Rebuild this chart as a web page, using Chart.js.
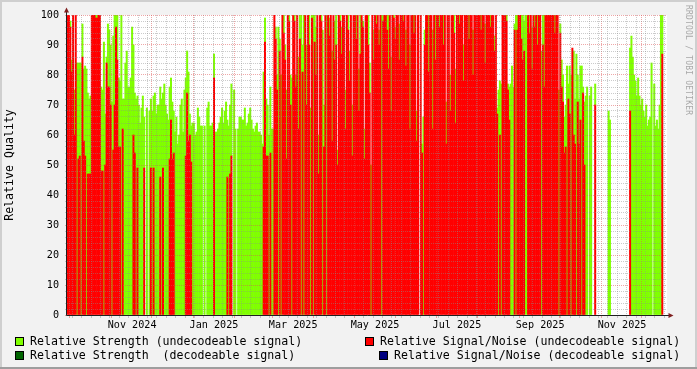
<!DOCTYPE html>
<html>
<head>
<meta charset="utf-8">
<script src="https://cdn.jsdelivr.net/npm/chart.js@4.4.1/dist/chart.umd.min.js"></script>
<style>
  html, body { margin: 0; padding: 0; background: #f2f2f2; }
  #wrap { position: relative; width: 697px; height: 369px; background: #f2f2f2; overflow: hidden;
          font-family: "DejaVu Sans Mono", monospace; }
  #chart { position: absolute; left: 0; top: 0; }
  .edge { position: absolute; }
  .lg { position: absolute; font-size: 11.6px; line-height: 14px; color: #000; white-space: pre; }
  .sq { position: absolute; width: 7px; height: 7px; border: 1px solid #000; }
  #mark { position: absolute; left: 684px; top: 5px; font-size: 8px; color: #a8a8a8;
          writing-mode: vertical-rl; white-space: pre; letter-spacing: 0.2px; }
</style>
</head>
<body>
<div id="wrap">
  <canvas id="chart" width="697" height="369"></canvas>
  <div class="edge" style="left:0;top:0;width:697px;height:2px;background:#cfcfcf"></div>
  <div class="edge" style="left:0;top:0;width:2px;height:369px;background:#cfcfcf"></div>
  <div class="edge" style="right:0;top:0;width:2px;height:369px;background:#cfcfcf"></div>
  <div class="edge" style="left:0;bottom:0;width:697px;height:2px;background:#9e9e9e"></div>

  <div class="sq" style="left:15px;top:337px;background:#80ff00"></div>
  <div class="lg" style="left:30px;top:334px">Relative Strength (undecodeable signal)</div>
  <div class="sq" style="left:365px;top:337px;background:#ff0000"></div>
  <div class="lg" style="left:380px;top:334px">Relative Signal/Noise (undecodeable signal)</div>
  <div class="sq" style="left:15px;top:351px;background:#006400"></div>
  <div class="lg" style="left:30px;top:348px">Relative Strength  (decodeable signal)</div>
  <div class="sq" style="left:379px;top:351px;background:#000080"></div>
  <div class="lg" style="left:394px;top:348px">Relative Signal/Noise (decodeable signal)</div>

  <div id="mark">RRDTOOL / TOBI OETIKER</div>
</div>
<script>
// one value per day, starting 2024-09-29
var startDate = Date.UTC(2024, 8, 29);

// Relative Strength (undecodeable signal), green
var strength = [
  90, 95,
  // Oct 2024
  98, 85, 80, 75, 84, 84, 84, 84, 84, 97, 82, 83, 82, 74, 72, 73, 90, 92, 95, 100,
  100, 96, 90, 76, 75, 91, 67, 86, 97, 95, 90,
  // Nov 2024
  71, 93, 100, 100, 100, 79, 78, 100, 72, 72, 84, 88, 76, 76, 79, 96, 90, 74, 72, 73,
  70, 64, 69, 73, 66, null, 69, null, 68, 72,
  // Dec 2024
  68, 73, 74, 67, 70, 70, 76, 72, 74, 77, 70, 67, 65, 76, 79, 71, 68, 61, 66, 57,
  60, 70, 72, 61, 75, 79, 88, 81, 67, 63, 64,
  // Jan 2025
  64, 60, 61, 69, 66, 63, 63, null, 63, null, 69, 71, 63, 63, 64, 87, 61, 61, 62, 64,
  66, 69, 64, 68, 71, 65, 63, 70, 77, null, 75,
  // Feb 2025
  62, null, 62, 66, 66, 65, 65, 69, 63, 64, 67, 69, 65, 62, 61, 63, 64, 61, 61, 60,
  57, 81, 99, 72, 70, 60, 76, 62,
  // Mar 2025
  62, 91, 96, 80, 96, 92, 80, 100, 100, 90, 75, 95, 100, 80, 79, 97, 100, 80, 95, 86,
  100, 100, 90, 100, 96, 90, 92, 100, 69, 100, 100,
  // Apr 2025
  100, 96, 90, 60, 92, 100, 95, 70, 88, 100, 91, 99, 96, 88, 94, 98, 100, 55, 93, 100,
  96, 90, 92, 75, 97, 100, 88, 95, 70, 96,
  // May 2025
  95, 100, 90, 82, 100, 94, 98, 62, 90, 98, 100, 84, 50, 92, 95, 96, 100, 93, 95, 97,
  100, 100, 90, 96, 100, 100, 92, 86, 95, 100, 96,
  // Jun 2025
  95, 92, 97, 96, 90, 100, 94, 95, 92, 96, 90, 93, 95, 100, 96, 68, 90, null, 93, 57,
  66, 95, 92, 94, 100, 96, 90, 95, 92, 100,
  // Jul 2025
  95, 92, 100, 94, 90, 100, 96, 71, 95, 92, 80, 97, 93, 100, 82, 90, 95, 100, 92, 96,
  90, 94, 91, 95, 100, 96, 93, 95, 90, 97, 95,
  // Aug 2025
  95, 92, 100, 90, 96, 97, 93, 90, 95, 100, 92, 94, 93, 90, 69, 75, 78, 77, 95, 92,
  90, 100, 77, 76, 77, 83, 76, 97, 100, 100, 94,
  // Sep 2025
  100, 100, 100, 98, 100, 100, 92, 100, 90, 96, 93, 100, 95, 100, 94, 92, 88, 100, 100, 95,
  92, 100, 90, 96, 94, 93, 100, 90, 92, 75,
  // Oct 2025
  97, 85, 80, 66, 70, 83, 77, 83, 80, 87, 88, 72, 87, 80, 72, 83, 83, 76, 71, 73,
  76, null, 73, 76, null, null, 77, null, null, null, null,
  // Nov 2025
  null, null, null, null, null, 68, 65, null, null, null, null, null, null, null, null, null,
  null, null, null, null, null, 89, 93, 86, 80, 78, 73, 79, 73, 70,
  // Dec 2025
  72, 68, 66, 70, 63, 65, 66, 84, null, 77, 63, 65, 62, 70, 100, 100, null, null, null
];

// Relative Signal/Noise (undecodeable signal), red
var snr = [
  100, 100,
  // Oct 2024
  96, 81, 100, 60, 100, null, 52, 53, null, 86, 58, 53, null, 47, 47, 47, 100, 100, 100, 99,
  99, 100, 100, 48, 48, null, 50, 84, 76, 76, 70,
  // Nov 2024
  null, 55, 70, 96, 85, 56, 56, null, 62, null, null, null, null, null, null, null, 60, 54, null, 49,
  null, null, null, null, 49, null, null, null, null, 49,
  // Dec 2024
  null, 49, null, null, null, null, 46, null, 49, null, null, null, null, 52, 65, 52, 54, null, null, null,
  null, null, null, null, null, 53, 74, 58, 60, 51, null,
  // Jan 2025
  null, null, null, null, null, null, null, null, null, null, null, null, null, null, null, 79, null, null, null, null,
  null, null, null, null, null, 46, null, 47, 53, null, null,
  // Feb 2025
  null, null, null, null, null, null, null, null, null, null, null, null, null, null, null, null, null, null, null, null,
  null, 56, 91, 53, 53, null, 54, null,
  // Mar 2025
  null, 100, 92, 75, null, 88, null, 100, 94, 85, 52, 100, 98, 70, null, 100, 98, 76, 100, 62,
  92, null, 81, null, 100, 70, 100, 90, null, 99, null,
  // Apr 2025
  91, 80, 100, 47, 100, 98, null, 56, 100, null, 100, 93, 100, 58, 100, 85, 90, 50, 100, 98,
  87, 100, 100, 62, 100, 95, 78, 100, 53, 100,
  // May 2025
  100, 92, 100, 68, 87, 100, 96, 52, 100, 100, 90, 74, null, 100, 85, 100, 97, 100, 90, 100,
  null, 98, 100, 100, 95, 82, 100, 68, 100, 99, 92,
  // Jun 2025
  100, 100, 85, 100, 100, 98, 100, 83, 100, 100, 62, 100, 100, 94, 100, 58, 100, null, 100, 54,
  null, 90, 100, 100, 81, 100, 100, 62, 100, 85,
  // Jul 2025
  100, 100, 96, 100, 100, 90, 100, 57, 100, 100, 68, 100, 100, 94, 64, 100, 100, 97, 100, 100,
  78, 100, 100, 100, 92, 100, 100, 80, 100, 100, 100,
  // Aug 2025
  100, 100, 95, 100, 100, 84, 100, 100, 100, 96, 100, 100, 88, 100, 67, null, 60, null, 100, 100,
  100, 98, 75, 65, null, null, null, 95, null, 95, 100,
  // Sep 2025
  100, 92, 85, 88, null, null, 100, 94, 100, 82, 100, 96, 100, 90, 100, 100, null, 90, 76, 100,
  100, 100, 100, 100, 100, 100, 94, 100, 100, null,
  // Oct 2025
  94, 76, 71, 54, 56, null, 72, 67, null, 89, 60, 57, null, 71, 57, 65, null, 74, 50, null,
  null, null, null, null, null, null, 70, null, null, null, null,
  // Nov 2025
  null, null, null, null, null, null, null, null, null, null, null, null, null, null, null, null,
  null, null, null, null, null, 68, null, null, null, null, null, null, null, null,
  // Dec 2025
  null, null, null, null, null, null, null, null, null, null, null, null, null, null, null, 87, null, null, null
];

var tickDates = ["2024-11-16", "2025-01-16", "2025-03-16", "2025-05-16", "2025-07-16", "2025-09-16", "2025-11-16"];
var tickLabels = ["Nov 2024", "Jan 2025", "Mar 2025", "May 2025", "Jul 2025", "Sep 2025", "Nov 2025"];

var MINOR = "rgba(140,140,140,0.45)",
    MAJOR = "rgba(222,80,80,0.5)",
    AXIS = "#202020",
    ARROW = "#7f1f1f";

var days = [];
for (var i = 0; i < strength.length; i++) {
    days.push(new Date(startDate + i * 864e5).toISOString().slice(0, 10));
}

// red sits on top, green shows only the part above it
var redBars = snr.slice();
var greenBars = strength.map(function(g, i) {
    var base = snr[i] === null ? 0 : snr[i];
    return (g !== null && g > base) ? [base, g] : null;
});

function xLine(i) {
    if (i >= days.length) return null;
    var d = new Date(days[i] + "T00:00:00Z");
    if (d.getUTCDate() === 1) return MAJOR;
    if (d.getUTCDay() === 4) return MINOR;
    return null;
}

var rrdLook = {
    id: "rrdLook",
    beforeDraw: function(chart) {
        var a = chart.chartArea, ctx = chart.ctx;
        ctx.save();
        ctx.fillStyle = "#ffffff";
        ctx.fillRect(a.left, a.top, a.right - a.left, a.bottom - a.top);
        ctx.restore();
    },
    afterDraw: function(chart) {
        var a = chart.chartArea, ctx = chart.ctx;
        var x0 = Math.round(a.left) - 0.5, y0 = Math.round(a.bottom) + 0.5;
        ctx.save();
        ctx.strokeStyle = AXIS;
        ctx.lineWidth = 1;
        ctx.beginPath();
        ctx.moveTo(x0, y0); ctx.lineTo(x0, a.top - 3);
        ctx.moveTo(x0, y0); ctx.lineTo(a.right + 2, y0);
        ctx.stroke();
        ctx.fillStyle = ARROW;
        ctx.beginPath();
        ctx.moveTo(x0 - 2.5, a.top - 2.5); ctx.lineTo(x0 + 2.5, a.top - 2.5); ctx.lineTo(x0, a.top - 7.5);
        ctx.closePath(); ctx.fill();
        ctx.beginPath();
        ctx.moveTo(a.right + 1.5, y0 - 2.5); ctx.lineTo(a.right + 1.5, y0 + 2.5); ctx.lineTo(a.right + 6.5, y0);
        ctx.closePath(); ctx.fill();
        ctx.restore();
    }
};

new Chart(document.getElementById("chart"), {
    type: "bar",
    data: {
        labels: days,
        datasets: [
            {
                label: "Relative Strength (undecodeable signal)",
                data: greenBars,
                backgroundColor: "#80ff00",
                order: 2
            },
            {
                label: "Relative Signal/Noise (undecodeable signal)",
                data: redBars,
                backgroundColor: "#ff0000",
                order: 1
            }
        ]
    },
    options: {
        responsive: false,
        devicePixelRatio: 1,
        animation: false,
        events: [],
        datasets: {
            bar: { grouped: false, barPercentage: 1, categoryPercentage: 1, borderWidth: 0 }
        },
        layout: { padding: { left: 0, top: 15, right: 30, bottom: 0 } },
        plugins: { legend: { display: false }, tooltip: { enabled: false } },
        scales: {
            x: {
                offset: true,
                grid: {
                    z: 1,
                    offset: true,
                    color: function(c) { return xLine(c.index) || "rgba(0,0,0,0)"; },
                    lineWidth: function(c) { return xLine(c.index) ? 1 : 0; },
                    drawTicks: true,
                    tickLength: 3
                },
                border: { display: false, dash: [1, 1], z: 2 },
                ticks: {
                    autoSkip: false,
                    maxRotation: 0,
                    padding: 1,
                    color: "#000",
                    font: { family: "DejaVu Sans Mono", size: 10.15 },
                    callback: function(v, i) {
                        var k = tickDates.indexOf(days[i]);
                        return k >= 0 ? tickLabels[k] : "";
                    }
                },
                afterFit: function(s) { s.height = 54; }
            },
            y: {
                min: 0,
                max: 100,
                grid: {
                    z: 1,
                    color: function(c) { return c.tick && c.tick.value % 10 === 0 ? MAJOR : MINOR; },
                    drawTicks: true,
                    tickLength: 2
                },
                border: { display: false, dash: [1, 1], z: 2 },
                ticks: {
                    stepSize: 2,
                    maxTicksLimit: 60,
                    autoSkip: false,
                    padding: 6,
                    color: "#000",
                    font: { family: "DejaVu Sans Mono", size: 10.15 },
                    callback: function(v) { return v % 10 === 0 ? String(v) : ""; }
                },
                title: {
                    display: true,
                    text: "Relative Quality",
                    color: "#000",
                    padding: { top: 3, bottom: 0 },
                    font: { family: "DejaVu Sans Mono", size: 11.6 }
                },
                afterFit: function(s) { s.width = 67; }
            }
        }
    },
    plugins: [rrdLook]
});
</script>
</body>
</html>
